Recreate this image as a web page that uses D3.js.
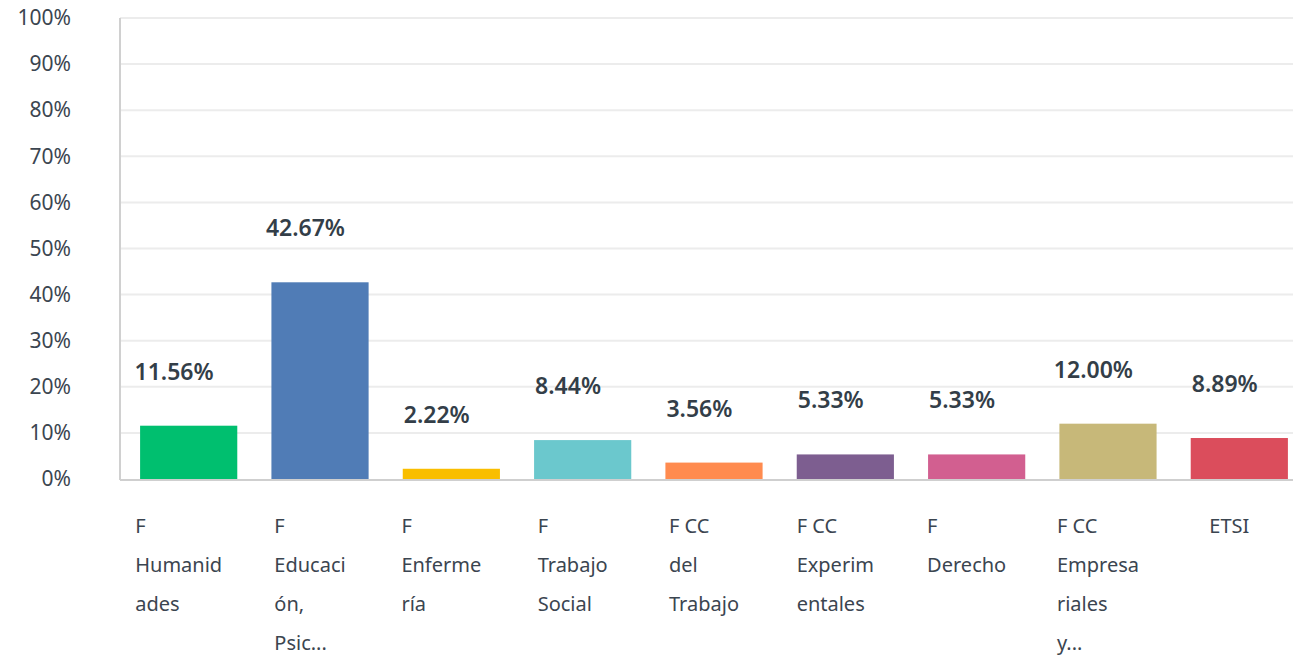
<!DOCTYPE html>
<html>
<head>
<meta charset="utf-8">
<script src="https://cdn.jsdelivr.net/npm/d3@7"></script>
<style>
  body { margin: 0; background: #fff; }
  svg { display: block; font-family: "Noto Sans", "Open Sans", sans-serif; }
</style>
</head>
<body>
<svg id="chart" width="1293" height="657"></svg>
<script>
// data
const categories = [
  "F\nHumanid\nades",
  "F\nEducaci\nón,\nPsic...",
  "F\nEnferme\nría",
  "F\nTrabajo\nSocial",
  "F CC\ndel\nTrabajo",
  "F CC\nExperim\nentales",
  "F\nDerecho",
  "F CC\nEmpresa\nriales\ny...",
  "ETSI"
]
const values = [11.56, 42.67, 2.22, 8.44, 3.56, 5.33, 5.33, 12.00, 8.89]
const colors = ["#00bf6f", "#507cb6", "#f9be00", "#6bc8cd", "#ff8b4f", "#7d5e90", "#d25f90", "#c7b879", "#db4d5c"]
const yTicks = [0, 10, 20, 30, 40, 50, 60, 70, 80, 90, 100]

let svg = d3.select("#chart")
let mLeft = 120, mTop = 18, mBottom = 479

let x = d3.scaleBand().domain(d3.range(categories.length)).range([mLeft, 1308])
  .paddingInner(0.26).paddingOuter(0.153)
let y = d3.scaleLinear().domain([0, 100]).range([mBottom, mTop])

// gridlines
svg.append("g").selectAll("line")
  .data(yTicks.slice(1))
  .enter().append("line")
  .attr("x1", mLeft).attr("x2", 1293)
  .attr("y1", d => y(d)).attr("y2", d => y(d))
  .attr("stroke", "#ececec").attr("stroke-width", 2)

// y axis labels
let yAxis = svg.append("g")
  .attr("transform", "translate(" + mLeft + ",0)")
  .call(d3.axisLeft(y).tickValues(yTicks).tickFormat(d => d + "%").tickSize(0).tickPadding(49))
yAxis.select(".domain").remove()
yAxis.selectAll("text")
  .attr("font-size", "21px")
  .attr("fill", "#3b4550")
  .attr("font-family", "Noto Sans, sans-serif")

// axis lines
svg.append("line")
  .attr("x1", mLeft).attr("x2", mLeft).attr("y1", mTop).attr("y2", mBottom + 1)
  .attr("stroke", "#d0d0d0").attr("stroke-width", 2)
svg.append("line")
  .attr("x1", mLeft).attr("x2", 1293).attr("y1", mBottom + 1).attr("y2", mBottom + 1)
  .attr("stroke", "#cfcfcf").attr("stroke-width", 2)

// bars
svg.append("g").selectAll("rect")
  .data(values)
  .enter().append("rect")
  .attr("x", (d, i) => x(i))
  .attr("y", d => y(d))
  .attr("width", x.bandwidth())
  .attr("height", d => mBottom - y(d))
  .attr("fill", (d, i) => colors[i])

// value labels
svg.append("g").selectAll("text")
  .data(values)
  .enter().append("text")
  .attr("x", (d, i) => x(i) + x.bandwidth() * 0.35)
  .attr("y", d => y(d) - 46)
  .attr("text-anchor", "middle")
  .attr("font-size", "23px")
  .attr("font-weight", "600")
  .attr("fill", "#333e48")
  .text(d => d.toFixed(2) + "%")

// category labels, left aligned lines in a centred block
let cat = svg.append("g").selectAll("g")
  .data(categories)
  .enter().append("g")
cat.each(function (d, i) {
  let g = d3.select(this)
  let lines = d.split("\n")
  let t = g.selectAll("text").data(lines).enter().append("text")
    .attr("y", (l, j) => 533 + j * 39)
    .attr("font-size", "20px")
    .attr("fill", "#3b4550")
    .text(l => l)
  let w = d3.max(t.nodes(), n => n.getComputedTextLength())
  let cx = x(i) + x.bandwidth() / 2 - 10
  t.attr("x", cx - w / 2)
})
</script>
</body>
</html>
